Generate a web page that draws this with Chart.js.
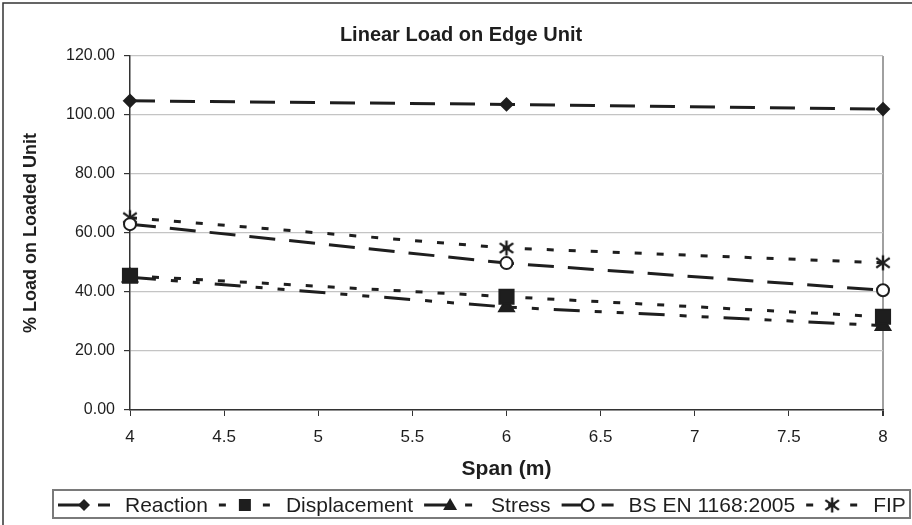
<!DOCTYPE html>
<html>
<head>
<meta charset="utf-8">
<script src="https://cdn.jsdelivr.net/npm/chart.js@4/dist/chart.umd.min.js"></script>
<style>
  body { margin: 0; background: #fff; }
  #wrap { width: 912px; height: 525px; position: relative; }
</style>
</head>
<body>
<div id="wrap"><canvas id="chart"></canvas></div>
<script>
// span values (m)
const spans = [4, 6, 8];
const reaction = [104.8, 103.6, 102.0];
const displacement = [45.5, 38.4, 31.6];
const stress = [45.0, 34.9, 28.6];
const bsEn = [63.0, 49.8, 40.6];
const fip = [65.2, 54.9, 49.9];
const seriesNames = ['Reaction', 'Displacement', 'Stress', 'BS EN 1168:2005', 'FIP'];
const yTicks = [0, 20, 40, 60, 80, 100, 120];

const INK = '#1e1e1e';
const FONT = '"Liberation Sans", Arial, sans-serif';

// asterisk marker like the excel "star"
function starImage(size) {
  const c = document.createElement('canvas');
  c.width = size; c.height = size;
  const g = c.getContext('2d');
  g.strokeStyle = INK;
  g.lineWidth = 2.4;
  const m = size / 2, r = size / 2 - 1.5;
  g.beginPath();
  g.moveTo(m, m - r); g.lineTo(m, m + r);
  g.moveTo(m - r * 0.9, m - r * 0.65); g.lineTo(m + r * 0.9, m + r * 0.65);
  g.moveTo(m + r * 0.9, m - r * 0.65); g.lineTo(m - r * 0.9, m + r * 0.65);
  g.stroke();
  return c;
}
const starImg = starImage(18);

const styles = [
  { dash: [25, 15], pointStyle: 'rectRot', radius: 6, fill: INK },
  { dash: [7, 15], pointStyle: 'rect', radius: 10, fill: INK },
  { dash: [26, 15, 7, 15, 7, 15], pointStyle: 'triangle', radius: 8.5, fill: INK },
  { dash: [26, 14], pointStyle: 'circle', radius: 6, fill: '#ffffff' },
  { dash: [7, 15], pointStyle: starImg, radius: 9, fill: INK }
];
const values = [reaction, displacement, stress, bsEn, fip];

const datasets = values.map((vals, i) => ({
  label: seriesNames[i],
  data: spans.map((x, j) => ({ x: x, y: vals[j] })),
  borderColor: INK,
  borderWidth: 3,
  borderDash: styles[i].dash,
  pointStyle: styles[i].pointStyle,
  pointRadius: styles[i].radius,
  pointHoverRadius: styles[i].radius,
  pointBackgroundColor: styles[i].fill,
  pointBorderColor: INK,
  pointBorderWidth: 2,
  tension: 0,
  fill: false,
  clip: false
}));

function drawMarker(ctx, kind, x, y) {
  ctx.save();
  ctx.setLineDash([]);
  ctx.fillStyle = INK;
  ctx.strokeStyle = INK;
  ctx.lineWidth = 2;
  ctx.beginPath();
  if (kind === 0) {
    ctx.moveTo(x, y - 6); ctx.lineTo(x + 6, y); ctx.lineTo(x, y + 6); ctx.lineTo(x - 6, y);
    ctx.closePath(); ctx.fill();
  } else if (kind === 1) {
    ctx.rect(x - 6, y - 6, 12, 12); ctx.fill();
  } else if (kind === 2) {
    ctx.moveTo(x, y - 7); ctx.lineTo(x + 7, y + 5); ctx.lineTo(x - 7, y + 5);
    ctx.closePath(); ctx.fill();
  } else if (kind === 3) {
    ctx.arc(x, y, 6, 0, Math.PI * 2);
    ctx.fillStyle = '#fff'; ctx.fill(); ctx.stroke();
  } else {
    ctx.drawImage(starImg, x - 9, y - 9);
  }
  ctx.restore();
}

const framePlugin = {
  id: 'frame',
  beforeDraw(chart) {
    const ctx = chart.ctx;
    ctx.save();
    ctx.fillStyle = '#fff';
    ctx.fillRect(0, 0, chart.width, chart.height);
    ctx.restore();
  },
  afterDraw(chart) {
    const ctx = chart.ctx;
    ctx.save();
    // outer frame, only top/left visible in the crop
    ctx.strokeStyle = '#333';
    ctx.lineWidth = 1.5;
    ctx.beginPath();
    ctx.moveTo(3, 530); ctx.lineTo(3, 3); ctx.lineTo(920, 3);
    ctx.stroke();

    // title
    ctx.fillStyle = INK;
    ctx.font = 'bold 20px ' + FONT;
    ctx.textAlign = 'center';
    ctx.textBaseline = 'middle';
    ctx.fillText('Linear Load on Edge Unit', 461, 35);

    // legend
    ctx.font = '21px ' + FONT;
    ctx.textAlign = 'left';
    let x = 58;
    const ly = 505;
    const boxLeft = x - 5;
    ctx.strokeStyle = '#7a7a7a';
    ctx.lineWidth = 2;
    ctx.strokeRect(boxLeft, 490, 910 - boxLeft, 28);
    seriesNames.forEach((name, i) => {
      ctx.strokeStyle = INK;
      ctx.lineWidth = 3;
      ctx.setLineDash(styles[i].dash);
      ctx.beginPath();
      ctx.moveTo(x, ly); ctx.lineTo(x + 52, ly);
      ctx.stroke();
      drawMarker(ctx, i, x + 26, ly);
      ctx.fillStyle = INK;
      ctx.fillText(name, x + 67, ly + 1);
      x = x + 67 + ctx.measureText(name).width + 11;
    });
    ctx.restore();
  }
};

new Chart(document.getElementById('chart'), {
  type: 'line',
  data: { datasets: datasets },
  plugins: [framePlugin],
  options: {
    responsive: true,
    maintainAspectRatio: false,
    animation: false,
    layout: { padding: { left: 5, right: 29, top: 56, bottom: 40 } },
    plugins: {
      legend: { display: false },
      title: { display: false },
      tooltip: { enabled: false }
    },
    scales: {
      x: {
        type: 'linear',
        min: spans[0],
        max: spans[spans.length - 1],
        afterFit: (scale) => { scale.height = 75; },
        ticks: { stepSize: 0.5, color: INK, padding: 11, font: { family: FONT, size: 17 }, callback: (v) => String(Number(v)) },
        grid: {
          color: (c) => (c.tick && c.tick.value === 8 ? '#a0a0a0' : 'rgba(0,0,0,0)'),
          lineWidth: (c) => (c.tick && c.tick.value === 8 ? 2 : 1),
          tickColor: '#333',
          tickLength: 6
        },
        border: { color: '#333', width: 1.5 },
        title: { display: true, text: 'Span (m)', color: INK, padding: 3, font: { family: FONT, size: 21, weight: 'bold' } }
      },
      y: {
        min: 0,
        max: 120,
        afterFit: (scale) => { scale.width = 125; },
        afterBuildTicks: (scale) => { scale.ticks = yTicks.map(v => ({ value: v })); },
        ticks: { color: INK, padding: 9, font: { family: FONT, size: 16 }, callback: (v) => Number(v).toFixed(2) },
        grid: { color: '#c4c4c4', lineWidth: 1.2, tickColor: '#333', tickLength: 6 },
        border: { color: '#333', width: 1.5 },
        title: { display: true, text: '% Load on Loaded Unit', color: INK, padding: 15, font: { family: FONT, size: 18, weight: 'bold' } }
      }
    }
  }
});
</script>
</body>
</html>
